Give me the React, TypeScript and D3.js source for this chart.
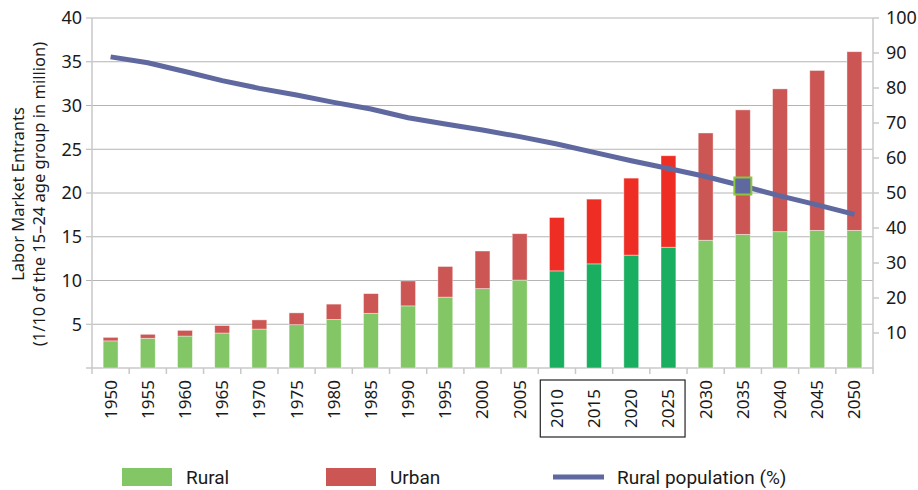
import React from 'react';
import * as d3 from 'd3';

const years = ['1950', '1955', '1960', '1965', '1970', '1975', '1980', '1985', '1990', '1995', '2000',
  '2005', '2010', '2015', '2020', '2025', '2030', '2035', '2040', '2045', '2050'];
const rural = [3.1, 3.4, 3.65, 4.0, 4.45, 4.95, 5.55, 6.25, 7.1, 8.1, 9.07,
  10.05, 11.1, 11.9, 12.9, 13.8, 14.6, 15.27, 15.58, 15.73, 15.73];
const total = [3.5, 3.85, 4.3, 4.85, 5.5, 6.3, 7.3, 8.5, 9.95, 11.6, 13.37,
  15.35, 17.2, 19.3, 21.7, 24.26, 26.86, 29.5, 31.9, 34.0, 36.15];
const ruralPct = [88.9, 87.2, 84.7, 82.1, 79.9, 78.0, 75.9, 74.0, 71.5, 69.7, 68.0,
  66.1, 64.0, 61.6, 59.2, 57.0, 54.7, 52.0, 49.2, 46.6, 43.9];
const highlighted = ['2010', '2015', '2020', '2025'];
const markerYear = '2035';
const leftTicks = [5, 10, 15, 20, 25, 30, 35, 40];
const rightTicks = [10, 20, 30, 40, 50, 60, 70, 80, 90, 100];

const W = 918, H = 490;
const m = { left: 92, right: 873, top: 18, bottom: 368 };
const font = '"Noto Sans", sans-serif';

const C = {
  rural: '#82c665', ruralHi: '#1aaf60', urban: '#cc5654', urbanHi: '#ee2e24',
  line: '#5f69a0', grid: '#b4b4b4', axis: '#c8c8c8', text: '#1a1a1a', marker: '#8cc63f'
};

export default function App() {
  const x = d3.scaleBand().domain(years).range([m.left, m.right]).padding(0);
  const y = d3.scaleLinear().domain([0, 40]).range([m.bottom, m.top]);
  const y2 = d3.scaleLinear().domain([0, 100]).range([m.bottom, m.top]);
  const bw = x.bandwidth() * 0.4;
  const cx = (d: string) => (x(d) as number) + x.bandwidth() / 2;

  const line = d3.line<number>().x((_, i) => cx(years[i])).y(d => y2(d));
  const mi = years.indexOf(markerYear);

  const boxL = x(highlighted[0]) as number;
  const boxR = (x(highlighted[highlighted.length - 1]) as number) + x.bandwidth();

  return (
    <>
      <style>{`body{margin:0}`}</style>
      <svg width={W} height={H} style={{ display: 'block', fontFamily: font }}>
        {/* grid */}
        {leftTicks.map(t => (
          <line key={'g' + t} x1={m.left - 6} x2={m.right} y1={y(t)} y2={y(t)} stroke={C.grid} strokeWidth={1} />
        ))}
        {/* axes lines */}
        <line x1={m.left} x2={m.left} y1={m.top} y2={m.bottom} stroke={C.axis} strokeWidth={1.5} />
        <line x1={m.right} x2={m.right} y1={m.top} y2={m.bottom + 6} stroke={C.axis} strokeWidth={1.5} />
        <line x1={m.left - 6} x2={m.right} y1={m.bottom} y2={m.bottom} stroke={C.axis} strokeWidth={1.5} />
        {years.map(d => (
          <line key={'t' + d} x1={x(d) as number} x2={x(d) as number} y1={m.bottom} y2={m.bottom + 6} stroke={C.axis} strokeWidth={1.5} />
        ))}
        {rightTicks.map(t => (
          <line key={'rt' + t} x1={m.right} x2={m.right + 6} y1={y2(t)} y2={y2(t)} stroke={C.axis} strokeWidth={1.5} />
        ))}

        {/* bars */}
        {years.map((d, i) => {
          const hi = highlighted.includes(d);
          return (
            <g key={'b' + d}>
              <rect x={cx(d) - bw / 2} y={y(rural[i])} width={bw} height={y(0) - y(rural[i])}
                fill={hi ? C.ruralHi : C.rural} stroke="#ffffff" strokeOpacity={0.5} strokeWidth={0.8} />
              <rect x={cx(d) - bw / 2} y={y(total[i])} width={bw} height={y(rural[i]) - y(total[i])}
                fill={hi ? C.urbanHi : C.urban} stroke="#ffffff" strokeOpacity={0.5} strokeWidth={0.8} />
            </g>
          );
        })}

        {/* rural population line */}
        <path d={line(ruralPct) || ''} fill="none" stroke={C.line} strokeWidth={5} />
        <rect x={cx(markerYear) - 8.5} y={y2(ruralPct[mi]) - 8.5} width={17} height={17}
          fill={C.line} stroke={C.marker} strokeWidth={2} />

        {/* left tick labels */}
        {leftTicks.map(t => (
          <text key={'l' + t} x={m.left - 10} y={y(t)} dy="0.35em" textAnchor="end" fontSize={18} fill={C.text}>{t}</text>
        ))}
        {/* right tick labels */}
        {rightTicks.map(t => (
          <text key={'r' + t} x={m.right + 13} y={y2(t)} dy="0.35em" textAnchor="start" fontSize={18} fill={C.text}>{t}</text>
        ))}
        {/* x labels */}
        {years.map(d => {
          const off = highlighted.includes(d) ? 21 : 12;
          return (
            <text key={'x' + d} transform={`translate(${cx(d)},${m.bottom + off}) rotate(-90)`}
              dy="0.35em" textAnchor="end" fontSize={17} fill={C.text}>{d}</text>
          );
        })}
        <rect x={boxL + 2} y={380} width={boxR - boxL - 4} height={57} fill="none" stroke="#222" strokeWidth={1.2} />

        {/* y axis title */}
        <text transform="translate(24,194) rotate(-90)" textAnchor="middle" fontSize={16.5} fill={C.text}>Labor Market Entrants</text>
        <text transform="translate(45,194) rotate(-90)" textAnchor="middle" fontSize={16.5} fill={C.text}>(1/10 of the 15–24 age group in million)</text>

        {/* legend */}
        <rect x={122} y={468} width={50} height={18} fill={C.rural} />
        <text x={186} y={477} dy="0.35em" fontSize={19} fill={C.text} fontFamily="Roboto, sans-serif">Rural</text>
        <rect x={326} y={468} width={50} height={18} fill={C.urban} />
        <text x={390} y={477} dy="0.35em" fontSize={19} fill={C.text} fontFamily="Roboto, sans-serif">Urban</text>
        <line x1={553} x2={604} y1={477} y2={477} stroke={C.line} strokeWidth={5} />
        <text x={617} y={477} dy="0.35em" fontSize={19} fill={C.text} fontFamily="Roboto, sans-serif">Rural population (%)</text>
      </svg>
    </>
  );
}
